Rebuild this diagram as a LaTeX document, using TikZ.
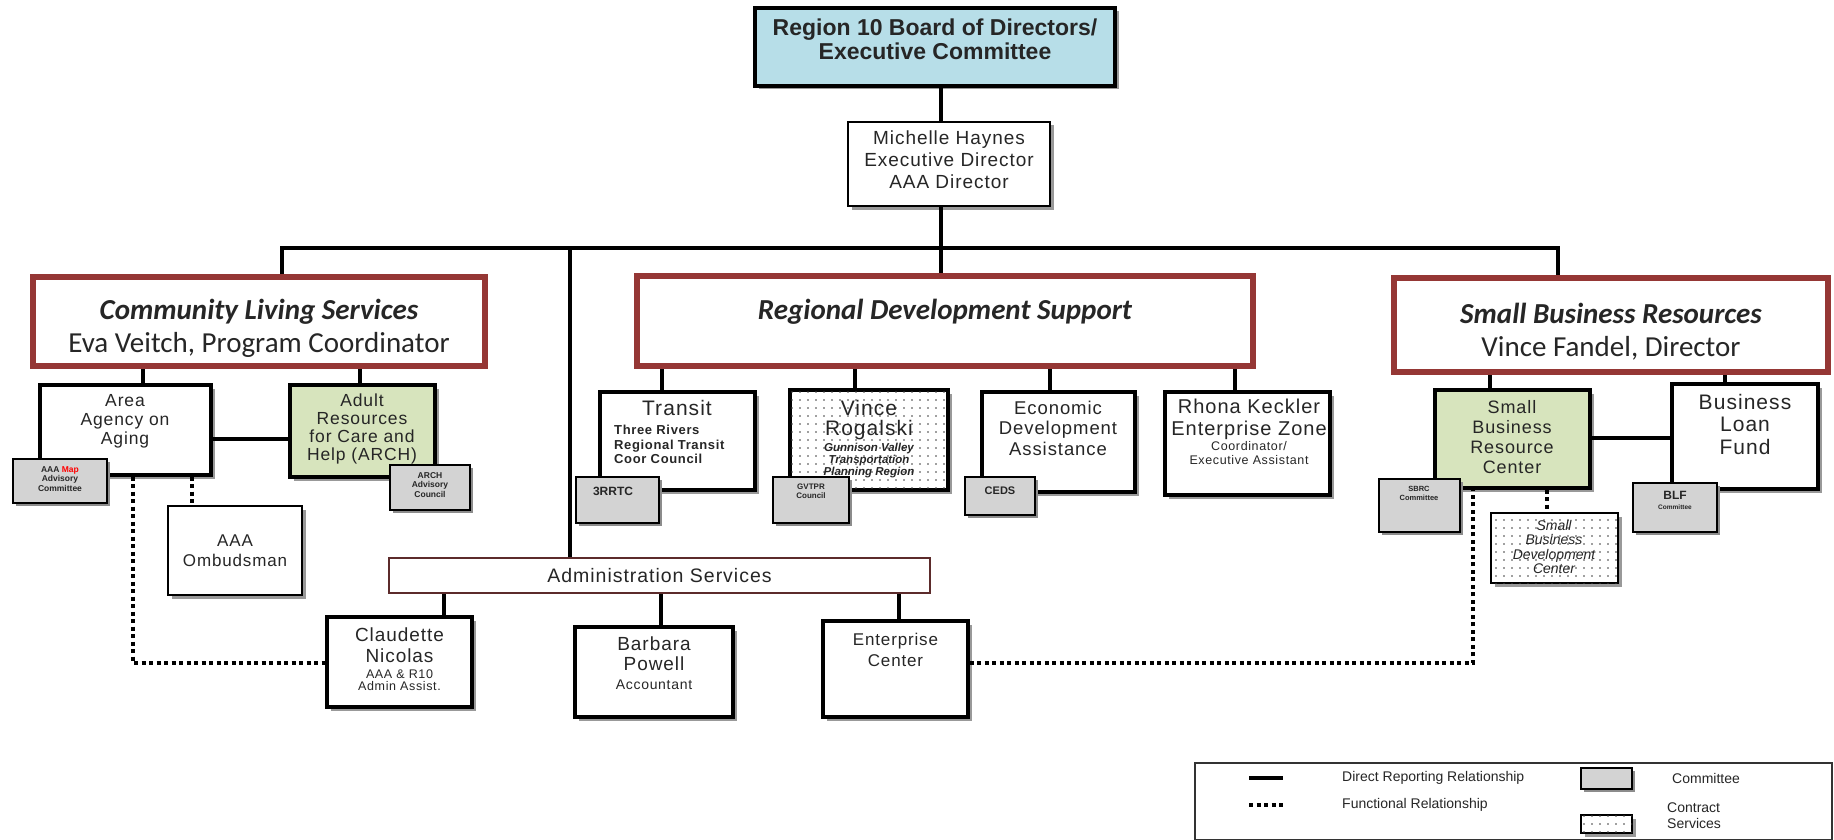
\documentclass[tikz,border=0pt]{standalone}
\usepackage{fontspec}
\setmainfont{Liberation Sans}
\newfontfamily\arfont{Liberation Sans}[LetterSpace=5]
\newfontfamily\calfont{Carlito}
\usetikzlibrary{shadows,patterns}
\pgfdeclarepatternformonly{sparsedots}{\pgfpoint{-1pt}{-1pt}}{\pgfpoint{1pt}{1pt}}{\pgfpoint{8pt}{8pt}}{\pgfpathcircle{\pgfpointorigin}{0.95pt}\pgfusepath{fill}}
\definecolor{boardblue}{HTML}{B7DEE8}
\definecolor{archgreen}{HTML}{D7E4BD}
\definecolor{comgray}{HTML}{D3D3D3}
\definecolor{secred}{HTML}{953735}
\definecolor{admred}{HTML}{5C2B2B}
\definecolor{txtc}{HTML}{262626}
\newcommand\fsz[2]{\fontsize{#1pt}{#2pt}\selectfont}
\begin{document}
\begin{tikzpicture}[x=1pt,y=-1pt,
  box/.style={draw=black, line width=3.2pt, fill=white, inner sep=0pt,
    drop shadow={shadow xshift=3.5pt, shadow yshift=-3.5pt, fill=black!40, opacity=1}},
  greenbox/.style={box, fill=archgreen},
  dotbox/.style={box, postaction={pattern=sparsedots, pattern color=black!75}},
  combox/.style={draw=black, line width=2pt, fill=comgray, inner sep=0pt,
    drop shadow={shadow xshift=3pt, shadow yshift=-3pt, fill=black!45, opacity=1}},
  secbox/.style={draw=secred, line width=6pt, fill=white, inner sep=0pt},
  tx/.style={inner sep=0pt, align=center, text=txtc},
  conn/.style={line width=3.2pt, black},
  func/.style={line width=4pt, black, dash pattern=on 4pt off 3.5pt}]
\useasboundingbox (0,0) rectangle (1834,840);
\fill[white] (0,0) rectangle (1834,840);

% ---------- coordinates for connector columns / rows
\coordinate (Xmain) at (941,0);
\coordinate (Ybus) at (0,248);
\coordinate (Xcls) at (282,0);
\coordinate (Xadm) at (570,0);
\coordinate (Xsbr) at (1558,0);
\coordinate (Xaaa) at (143,0);
\coordinate (Xarch) at (360,0);
\coordinate (Yaa) at (0,439);
\coordinate (Xdl) at (133,0);
\coordinate (Xomb) at (192,0);
\coordinate (Xcl) at (444,0);
\coordinate (Xbp) at (661,0);
\coordinate (Xec) at (899,0);
\coordinate (Ydl) at (0,663);
\coordinate (Xtr) at (662,0);
\coordinate (Xvr) at (855,0);
\coordinate (Xed) at (1050,0);
\coordinate (Xrk) at (1235,0);
\coordinate (Xsbrc) at (1490,0);
\coordinate (Xblf) at (1725,0);
\coordinate (Ysb) at (0,438);
\coordinate (Xdr) at (1473,0);
\coordinate (Xsbdc) at (1547,0);

% ---------- top
\node[box, minimum width=360pt, minimum height=78pt, fill=boardblue, line width=3.5pt] (board) at (935,47) {};
\node[tx, font=\bfseries\fsz{23}{24}] (boardt) at (935,39) {Region 10 Board of Directors/\\Executive Committee};
\node[box, minimum width=202pt, minimum height=84pt, line width=2.6pt] (michelle) at (949,164) {};
\node[tx, font=\arfont\fsz{19}{22}] (michellet) at (949,160) {Michelle Haynes\\Executive Director\\AAA Director};

% ---------- sections
\node[secbox, minimum width=452pt, minimum height=89pt] (cls) at (259,321.5) {};
\node[tx, font=\calfont\fsz{29}{33}] (clst) at (259,328) {{\bfseries\itshape Community Living Services}\\Eva Veitch, Program Coordinator};
\node[secbox, minimum width=616pt, minimum height=90pt] (rds) at (945,321) {};
\node[tx, font=\calfont\bfseries\itshape\fsz{29}{33}] (rdst) at (945,312) {Regional Development Support};
\node[secbox, minimum width=434pt, minimum height=94pt] (sbr) at (1611,325) {};
\node[tx, font=\calfont\fsz{29}{33}] (sbrt) at (1611,332) {{\bfseries\itshape Small Business Resources}\\Vince Fandel, Director};

% ---------- community living
\node[box, minimum width=171pt, minimum height=90pt] (aaa) at (125.5,430) {};
\node[tx, font=\arfont\fsz{17.5}{19}] (aaat) at (125,421) {Area\\Agency on\\Aging};
\node[greenbox, minimum width=145pt, minimum height=92pt] (arch) at (362.5,431) {};
\node[tx, font=\arfont\fsz{17.5}{18}] (archt) at (362,429) {Adult\\Resources\\for Care and\\Help (ARCH)};
\node[combox, minimum width=94pt, minimum height=44pt] (aaacom) at (60,481) {};
\node[tx, font=\bfseries\fsz{8.5}{9.5}] (aaacomt) at (60,479) {AAA \textcolor{red}{Map}\\Advisory\\Committee};
\node[combox, minimum width=80pt, minimum height=45pt] (archcom) at (430,487.5) {};
\node[tx, font=\bfseries\fsz{8.5}{9.5}] (archcomt) at (430,485) {ARCH\\Advisory\\Council};
\node[box, minimum width=134pt, minimum height=89pt, line width=2.6pt] (omb) at (235,550.5) {};
\node[tx, font=\arfont\fsz{17}{20}] (ombt) at (235,551) {AAA\\Ombudsman};

% ---------- administration
\node[draw=admred, line width=2.2pt, fill=white, inner sep=0pt, minimum width=541pt, minimum height=35pt] (admin) at (659.5,575.5) {};
\node[tx, font=\arfont\fsz{19.5}{20}] (admint) at (659.5,575.5) {Administration Services};
\node[box, minimum width=145pt, minimum height=90pt] (claud) at (399.5,662) {};
\node[tx, font=\arfont\fsz{19}{21}] (claudt) at (399.5,645.5) {Claudette\\Nicolas};
\node[tx, font=\arfont\fsz{12.5}{12.5}] (claudt2) at (399.5,680) {AAA \& R10\\Admin Assist.};
\node[box, minimum width=158pt, minimum height=90pt] (barb) at (654,672) {};
\node[tx, font=\arfont\fsz{19}{20}] (barbt) at (654,654) {Barbara\\Powell};
\node[tx, font=\arfont\fsz{14}{14}] (barbt2) at (654,685) {Accountant};
\node[box, minimum width=145pt, minimum height=96pt] (ent) at (895.5,669) {};
\node[tx, font=\arfont\fsz{17}{21}] (entt) at (895.5,649.5) {Enterprise\\Center};

% ---------- regional development
\node[box, minimum width=155pt, minimum height=98pt] (transit) at (677.5,441) {};
\node[tx, font=\arfont\fsz{21}{21}] (transitt) at (677,408) {Transit};
\node[tx, align=left, anchor=west, font=\arfont\bfseries\fsz{13}{14.5}] (transitt2) at (614,444.5) {Three Rivers\\Regional Transit\\Coor Council};
\node[combox, minimum width=83pt, minimum height=46pt] (rrtc) at (617.5,500) {};
\node[tx, font=\bfseries\fsz{12}{12}] (rrtct) at (613,491) {3RRTC};
\node[dotbox, minimum width=158pt, minimum height=100pt] (vince) at (869,440) {};
\node[tx, font=\arfont\fsz{21}{20}] (vincet) at (869,420) {Vince\\Rogalski};
\node[tx, font=\bfseries\itshape\fsz{11.5}{12}] (vincet2) at (869,461) {Gunnison Valley\\Transportation\\Planning Region};
\node[combox, minimum width=76pt, minimum height=46pt] (gvtpr) at (811,500) {};
\node[tx, font=\bfseries\fsz{8}{9}] (gvtprt) at (811,491) {GVTPR\\Council};
\node[box, minimum width=153pt, minimum height=100pt] (econ) at (1058.5,442) {};
\node[tx, font=\arfont\fsz{18.5}{20.5}] (econt) at (1058,428) {Economic\\Development\\Assistance};
\node[combox, minimum width=70pt, minimum height=38pt] (ceds) at (1000,496) {};
\node[tx, font=\bfseries\fsz{11}{11}] (cedst) at (1000,491) {CEDS};
\node[box, minimum width=165pt, minimum height=103pt] (rhona) at (1247.5,443.5) {};
\node[tx, font=\arfont\fsz{20}{22}] (rhonat) at (1249,419) {Rhona Keckler\\Enterprise Zone};
\node[tx, font=\arfont\fsz{12.5}{14}] (rhonat2) at (1249,453) {Coordinator/\\Executive Assistant};

% ---------- small business
\node[greenbox, minimum width=155pt, minimum height=98pt] (sbrc) at (1512.5,439) {};
\node[tx, font=\arfont\fsz{18}{20}] (sbrct) at (1512,437) {Small\\Business\\Resource\\Center};
\node[box, minimum width=146pt, minimum height=105pt] (blf) at (1745,436.5) {};
\node[tx, font=\arfont\fsz{21}{22.5}] (blft) at (1745,424) {Business\\Loan\\Fund};
\node[combox, minimum width=81pt, minimum height=53pt] (sbrccom) at (1419.5,505.5) {};
\node[tx, font=\bfseries\fsz{7.5}{9}] (sbrccomt) at (1419,493) {SBRC\\Committee};
\node[combox, minimum width=84pt, minimum height=49pt] (blfcom) at (1675,507.5) {};
\node[tx, font=\bfseries\fsz{12}{12}] (blfcomt) at (1675,495) {BLF};
\node[tx, font=\bfseries\fsz{6.5}{7}] (blfcomt2) at (1675,507) {Committee};
\node[dotbox, line width=2.2pt, minimum width=127pt, minimum height=70pt] (sbdc) at (1554.5,548) {};
\node[tx, font=\itshape\fsz{14}{14.5}] (sbdct) at (1554,547) {Small\\Business\\Development\\Center};

% ---------- connectors
\draw[conn] (board.south -| Xmain) -- (michelle.north -| Xmain);
\draw[conn] (michelle.south -| Xmain) -- (rds.north -| Xmain);
\draw[conn] (cls.north -| Xcls) -- (Xcls |- Ybus) -- (Xsbr |- Ybus) -- (sbr.north -| Xsbr);
\draw[conn] (Xadm |- Ybus) -- (admin.north -| Xadm);
\draw[conn] (cls.south -| Xaaa) -- (aaa.north -| Xaaa);
\draw[conn] (cls.south -| Xarch) -- (arch.north -| Xarch);
\draw[conn] (aaa.east |- Yaa) -- (arch.west |- Yaa);
\draw[conn] (admin.south -| Xcl) -- (claud.north -| Xcl);
\draw[conn] (admin.south -| Xbp) -- (barb.north -| Xbp);
\draw[conn] (admin.south -| Xec) -- (ent.north -| Xec);
\draw[conn] (rds.south -| Xtr) -- (transit.north -| Xtr);
\draw[conn] (rds.south -| Xvr) -- (vince.north -| Xvr);
\draw[conn] (rds.south -| Xed) -- (econ.north -| Xed);
\draw[conn] (rds.south -| Xrk) -- (rhona.north -| Xrk);
\draw[conn] (sbr.south -| Xsbrc) -- (sbrc.north -| Xsbrc);
\draw[conn] (sbr.south -| Xblf) -- (blf.north -| Xblf);
\draw[conn] (sbrc.east |- Ysb) -- (blf.west |- Ysb);
\draw[func] (aaa.south -| Xomb) -- (omb.north -| Xomb);
\draw[func] (aaa.south -| Xdl) -- (Xdl |- Ydl) -- (claud.west |- Ydl);
\draw[func] (ent.east |- Ydl) -- (Xdr |- Ydl) -- (sbrc.south -| Xdr);
\draw[func] (sbrc.south -| Xsbdc) -- (sbdc.north -| Xsbdc);

% ---------- legend
\node[draw=black!80, line width=1.2pt, inner sep=0pt, minimum width=637pt, minimum height=77pt] (legend) at (1513.5,801.5) {};
\coordinate (L1a) at (1249,778);
\coordinate (L1b) at (1283,778);
\coordinate (L2a) at (1249,805);
\coordinate (L2b) at (1283,805);
\draw[conn] (L1a) -- (L1b);
\draw[func] (L2a) -- (L2b);
\node[tx, anchor=west, font=\fsz{14}{16}] (lg1) at (1342,778) {Direct Reporting Relationship};
\node[tx, anchor=west, font=\fsz{14}{16}] (lg2) at (1342,805) {Functional Relationship};
\node[combox, minimum width=51pt, minimum height=21pt] (lcom) at (1606.5,778.5) {};
\node[dotbox, line width=1.5pt, minimum width=51pt, minimum height=18pt] (lcon) at (1606.5,824) {};
\node[tx, anchor=west, font=\fsz{14}{16}] (lg3) at (1672,778) {Committee};
\node[tx, anchor=west, align=left, font=\fsz{14}{16}] (lg4) at (1667,816) {Contract\\Services};
\end{tikzpicture}
\end{document}
